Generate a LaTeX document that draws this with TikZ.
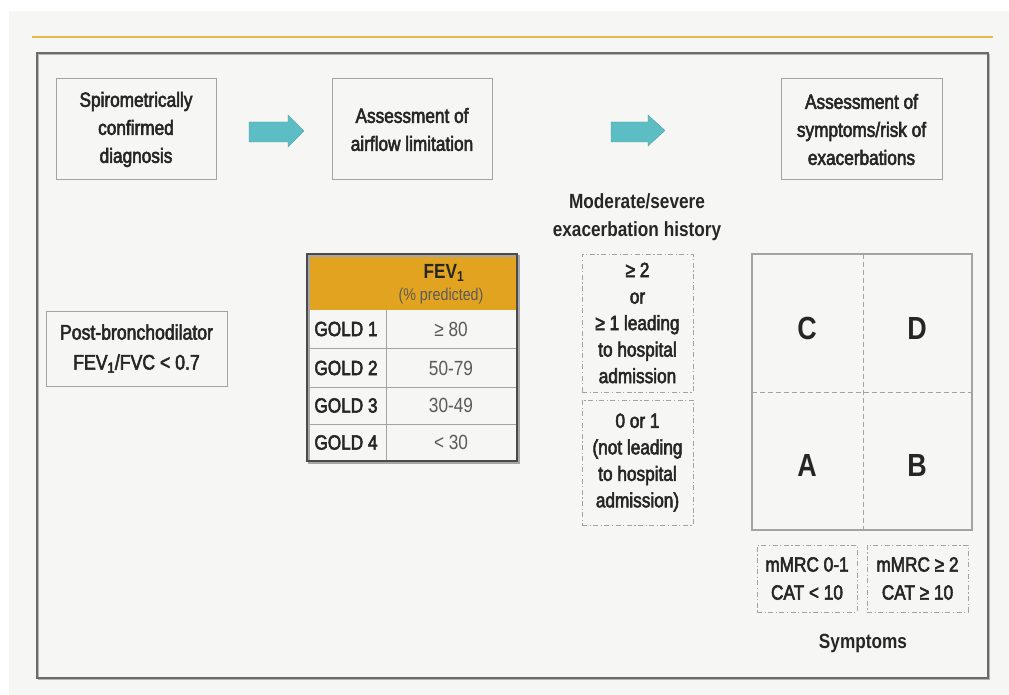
\documentclass[tikz,border=0pt]{standalone}
\usepackage{fontspec}
\setmainfont[FakeStretch=0.84]{Liberation Sans}
\newcommand\heavier{\special{pdf:literal 2 Tr 0.55 w}}
\definecolor{bgcol}{HTML}{F6F6F4}
\definecolor{rulecol}{HTML}{EDB944}
\definecolor{framecol}{HTML}{6B6B6B}
\definecolor{boxcol}{HTML}{A3A3A3}
\definecolor{teal}{HTML}{5DBDC4}
\definecolor{hdrcol}{HTML}{E2A420}
\definecolor{txt}{HTML}{262626}
\definecolor{lighttxt}{HTML}{5A5A5A}
\tikzset{
  main/.style={font=\fontsize{20.5}{28}\selectfont\heavier, text=txt, align=center, inner sep=0pt},
  stepbox/.style={main, draw=boxcol, line width=1pt, minimum width=160, minimum height=101},
  dashbox/.style={main, draw=boxcol, line width=0.9pt, dash pattern=on 5pt off 2.5pt on 1.2pt off 2.5pt},
  tcell/.style={main, font=\fontsize{20.5}{24}\selectfont\heavier},
  bigletter/.style={main, font=\fontsize{32}{32}\selectfont\bfseries},
  blockarrow/.style={fill=teal, draw=teal!80!black, line width=0.3pt},
}
\begin{document}
\begin{tikzpicture}[x=1pt,y=-1pt]
\useasboundingbox (0,0) rectangle (1009,695);
\fill[bgcol] (9,11) rectangle (1009,695);
\draw[rulecol, line width=2pt] (32,37) -- (993,37);
\draw[framecol!50, line width=1.4pt] (38.5,54.5) rectangle (989.5,679.5);
\draw[framecol, line width=2.2pt] (37,53) rectangle (988,678);

% top boxes
\node[stepbox] (diag) at (136,129.5) {Spirometrically\\confirmed\\diagnosis};
\node[stepbox] (airflow) at (412,129.5) {Assessment of\\airflow limitation};
\node[stepbox, minimum width=161] (symp) at (861.5,129.5) {Assessment of\\symptoms/risk of\\exacerbations};

% block arrows
\draw[blockarrow] (249,122) -- (288,122) -- (288,115) -- (304,131) -- (288,147) -- (288,142) -- (249,142) -- cycle;
\draw[blockarrow] (611,122) -- (648,122) -- (648,115) -- (665,130.5) -- (648,146) -- (648,142) -- (611,142) -- cycle;

% post-bronchodilator
\node[stepbox, minimum width=181, minimum height=75, font=\fontsize{21}{30}\selectfont\heavier] (post) at (136.5,348.5) {Post-bronchodilator\\FEV\textsubscript{1}/FVC < 0.7};

% table
\fill[hdrcol] (307,254) rectangle (517,310);
\draw[boxcol, line width=0.8pt] (386,310) -- (386,461);
\draw[boxcol, line width=0.8pt] (307,348) -- (517,348);
\draw[boxcol, line width=0.8pt] (307,387) -- (517,387);
\draw[boxcol, line width=0.8pt] (307,424) -- (517,424);
\draw[framecol!60, line width=1.5pt] (309,256) rectangle (519,463);
\draw[framecol!70!black, line width=1.3pt] (307,254) rectangle (517,461);
\node[main, font=\fontsize{20.5}{24}\selectfont\bfseries] (fev) at (444,273) {FEV\textsubscript{1}};
\node[main, font=\fontsize{17}{20}\selectfont, text=lighttxt] (pred) at (441,296) {(\% predicted)};
\node[tcell] (g1) at (346,329) {GOLD 1};
\node[tcell] (g2) at (346,368) {GOLD 2};
\node[tcell] (g3) at (346,405.5) {GOLD 3};
\node[tcell] (g4) at (346,442.5) {GOLD 4};
\node[tcell, font=\fontsize{20.5}{24}\selectfont, text=lighttxt] (v1) at (451,329) {≥ 80};
\node[tcell, font=\fontsize{20.5}{24}\selectfont, text=lighttxt] (v2) at (451,368) {50-79};
\node[tcell, font=\fontsize{20.5}{24}\selectfont, text=lighttxt] (v3) at (451,405.5) {30-49};
\node[tcell, font=\fontsize{20.5}{24}\selectfont, text=lighttxt] (v4) at (451,442.5) {< 30};

% exacerbation history
\node[main, font=\fontsize{20.5}{28}\selectfont\bfseries] (exh) at (637,217) {Moderate/severe\\exacerbation history};
\node[dashbox, minimum width=111, minimum height=138, font=\fontsize{20.5}{26.5}\selectfont\heavier] (hi) at (637.5,323) {≥ 2\\or\\≥ 1 leading\\to hospital\\admission};
\node[dashbox, minimum width=111, minimum height=125, font=\fontsize{20.5}{26.5}\selectfont\heavier] (lo) at (637.5,462.5) {0 or 1\\(not leading\\to hospital\\admission)};

% quadrant
\draw[boxcol, line width=1.2pt] (752,254) rectangle (972,530);
\draw[boxcol, line width=1pt, dash pattern=on 5pt off 3pt] (863,254) -- (863,530);
\draw[boxcol, line width=1pt, dash pattern=on 5pt off 3pt] (752,392) -- (972,392);
\node[bigletter] (C) at (807,328) {C};
\node[bigletter] (D) at (917,328) {D};
\node[bigletter] (A) at (807,465) {A};
\node[bigletter] (B) at (917,465) {B};

% symptom boxes
\node[dashbox, minimum width=100, minimum height=67] (m1) at (807,578.5) {mMRC 0-1\\CAT < 10};
\node[dashbox, minimum width=101, minimum height=67] (m2) at (917.5,578.5) {mMRC ≥ 2\\CAT ≥ 10};
\node[main, font=\fontsize{20.5}{24}\selectfont\bfseries] (sy) at (863,643) {Symptoms};
\end{tikzpicture}
\end{document}
